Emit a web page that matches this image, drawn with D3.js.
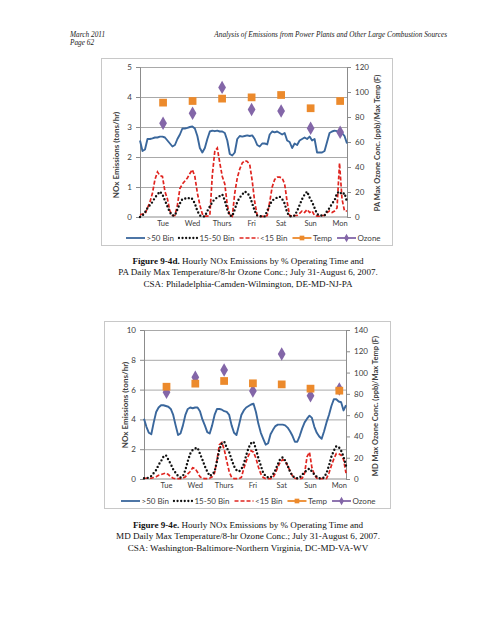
<!DOCTYPE html>
<html><head><meta charset="utf-8">
<script src="https://cdn.jsdelivr.net/npm/d3@7/dist/d3.min.js"></script>
<style>body{margin:0;background:#fff}svg{display:block}</style>
</head><body><svg id="page" width="495" height="640"></svg>
<script>
// ---------- DATA ----------
const days = ["Tue","Wed","Thurs","Fri","Sat","Sun","Mon"];
const hours = d3.range(0, 167, 2); // sample hours (every 2 h), July 31 - Aug 6 2007

// Figure 9-4d (PA)  NOx tons/hr
const paOver50 = [2.55,2.2,2.25,2.6,2.6,2.62,2.65,2.65,2.68,2.68,2.65,2.55,2.45,2.35,2.4,2.6,2.75,2.95,2.95,2.97,3.0,3.02,2.95,2.7,2.3,2.15,2.3,2.6,2.85,2.88,2.86,2.88,2.85,2.85,2.8,2.55,2.1,2.05,2.15,2.6,2.7,2.68,2.7,2.72,2.7,2.72,2.6,2.4,2.35,2.45,2.45,2.42,2.75,2.85,2.82,2.85,2.8,2.75,2.8,2.55,2.5,2.3,2.45,2.4,2.55,2.6,2.65,2.6,2.68,2.55,2.6,2.15,2.15,2.15,2.2,2.5,2.8,2.85,2.88,2.86,2.85,2.8,2.7,2.45];
const pa15to50 = [0.0,0.05,0.15,0.3,0.4,0.5,0.65,0.75,0.85,0.75,0.55,0.35,0.15,0.05,0.05,0.25,0.45,0.6,0.62,0.6,0.65,0.6,0.45,0.2,0.05,0.02,0.02,0.2,0.35,0.5,0.6,0.65,0.7,0.75,0.55,0.25,0.05,0.03,0.25,0.5,0.65,0.75,0.85,0.8,0.7,0.45,0.2,0.05,0.03,0.02,0.02,0.2,0.4,0.55,0.6,0.65,0.68,0.6,0.45,0.15,0.03,0.02,0.05,0.2,0.4,0.6,0.75,0.85,0.65,0.5,0.3,0.1,0.05,0.05,0.05,0.2,0.3,0.45,0.55,0.8,0.85,0.75,0.8,0.5];
const paUnder15 = [0.07,0.1,0.1,0.3,0.5,0.8,1.25,1.5,1.38,1.35,0.85,0.6,0.2,0.05,0.05,0.4,0.95,1.1,1.2,1.3,1.45,1.58,1.35,0.8,0.4,0.1,0.03,0.03,0.05,1.4,2.2,2.3,1.8,1.35,1.1,0.4,0.05,0.02,0.8,1.3,1.6,1.8,1.88,1.85,1.75,1.2,0.5,0.05,0.02,0.02,0.02,0.05,0.5,1.0,1.25,1.33,1.33,1.3,1.1,0.5,0.05,0.03,0.05,0.05,0.12,0.2,0.15,0.25,0.15,0.2,0.05,0.03,0.03,0.05,0.05,0.15,0.2,0.15,0.2,0.3,1.8,0.6,0.2,0.2];
const paTemp  = [91.5,92.8,94.7,95.7,97.6,87,92.8];
const paOzone = [75,83,103.7,86,84.8,71,67.8];

// Figure 9-4e (MD)  NOx tons/hr
const mdOver50 = [4.05,3.5,3.1,3.0,3.8,4.5,4.8,4.95,4.95,4.9,4.85,4.7,4.3,3.6,2.95,3.05,3.6,4.3,4.7,4.8,4.75,4.8,4.8,4.55,4.0,3.6,3.15,3.05,3.6,4.3,4.7,4.7,4.65,4.55,4.5,4.3,3.6,3.1,2.95,3.6,4.3,4.6,4.8,4.9,5.0,5.05,4.5,3.7,3.1,2.7,2.3,2.4,3.0,3.3,3.55,3.65,3.65,3.65,3.6,3.45,3.2,2.9,2.5,2.5,2.9,3.4,3.8,4.05,4.25,4.1,3.5,3.1,2.85,2.7,3.2,3.8,4.3,4.9,5.35,5.35,5.2,5.15,4.6,4.95];
const md15to50 = [0.05,0.05,0.1,0.2,0.4,0.6,0.95,1.2,1.5,1.6,1.3,1.0,0.65,0.4,0.2,0.1,0.2,0.6,1.2,1.7,1.95,2.05,2.1,1.7,1.3,0.85,0.5,0.2,0.3,0.5,1.2,2.0,2.4,2.5,2.1,1.8,1.3,0.85,0.6,0.5,0.65,1.0,1.6,2.1,2.4,2.5,2.0,1.4,0.9,0.4,0.2,0.1,0.1,0.3,0.6,1.0,1.35,1.45,1.25,0.9,0.5,0.2,0.1,0.05,0.1,0.3,0.45,0.6,0.7,0.5,0.3,0.15,0.05,0.05,0.1,0.4,0.9,1.5,1.9,2.2,2.15,1.9,1.5,0.9];
const mdUnder15 = [0.05,0.05,0.05,0.05,0.1,0.15,0.25,0.3,0.35,0.4,0.3,0.15,0.05,0.02,0.02,0.02,0.05,0.15,0.35,0.5,0.75,0.7,0.45,0.15,0.05,0.02,0.02,0.05,0.15,0.4,1.3,2.3,2.45,1.95,1.2,0.5,0.1,0.03,0.02,0.02,0.1,0.7,1.2,1.6,1.9,1.8,1.4,0.8,0.35,0.1,0.03,0.02,0.02,0.1,0.4,0.8,1.15,1.3,1.2,0.9,0.55,0.2,0.05,0.02,0.02,0.05,0.4,1.5,1.8,0.75,0.3,0.05,0.02,0.02,0.02,0.03,0.4,0.9,1.35,1.7,1.7,1.6,1.3,0.4];
const mdTemp  = [86.7,89.6,92.1,89.9,88.9,84.9,83];
const mdOzone = [81.5,95.6,102.4,82.7,117.5,78.3,84.6];

const legendLabels = [">50 Bin","15-50 Bin","<15 Bin","Temp","Ozone"];

// ---------- DRAW ----------
const svg = d3.select("#page");
svg.append("rect").attr("width",495).attr("height",640).attr("fill","#fff");

const serif = "'Liberation Serif','Times New Roman',serif";
const sans = "Lato,'Open Sans',sans-serif";
const C = {blue:"#3a679c", red:"#e0241f", black:"#111", orange:"#ec8a2c", purple:"#8366a8", grid:"#a9a9a9", axis:"#8c8c8c", text:"#404040"};

// header
const hdr = svg.append("g").attr("font-family",serif).attr("font-style","italic").attr("font-size",7.3).attr("fill","#222");
hdr.append("text").attr("x",70).attr("y",37).text("March 2011");
hdr.append("text").attr("x",70).attr("y",45).text("Page 62");
hdr.append("text").attr("x",447).attr("y",37).attr("text-anchor","end").text("Analysis of Emissions from Power Plants and Other Large Combustion Sources");

function chart(cfg){
  const g = svg.append("g");
  const f = cfg.frame, p = cfg.plot;
  g.append("rect").attr("x",f.x).attr("y",f.y).attr("width",f.w).attr("height",f.h)
    .attr("fill","#fff").attr("stroke","#c8c8c8").attr("stroke-width",1);

  const x = d3.scaleLinear().domain([0,166]).range([p.l,p.r]);
  const y = d3.scaleLinear().domain([0,cfg.yMax]).range([p.b,p.t]);
  const yr = d3.scaleLinear().domain([0,cfg.rMax]).range([p.b,p.t]);
  const xd = d3.scalePoint().domain(days).range([x(18.5),x(160.5)]);
  const yTicks = d3.range(0,cfg.yMax+0.001,cfg.yStep);

  // grid
  const grid = g.append("g").attr("transform",`translate(${p.l},0)`)
    .call(d3.axisLeft(y).tickValues(yTicks.filter(v=>v>0)).tickSize(-(p.r-p.l)).tickFormat(""));
  grid.select(".domain").remove();
  grid.selectAll("line").attr("stroke",C.grid).attr("stroke-width",1);

  // left axis
  const la = g.append("g").attr("transform",`translate(${p.l},0)`)
    .call(d3.axisLeft(y).tickValues(yTicks).tickSize(4).tickPadding(4).tickFormat(d3.format("d")));
  la.select(".domain").attr("stroke",C.axis);
  la.selectAll("line").attr("stroke",C.axis);
  la.selectAll("text").attr("font-family",sans).attr("font-size",8).attr("fill",C.text);

  // right axis
  const ra = g.append("g").attr("transform",`translate(${p.r},0)`)
    .call(d3.axisRight(yr).tickValues(d3.range(0,cfg.rMax+1,20)).tickSize(4).tickPadding(4));
  ra.select(".domain").attr("stroke",C.axis);
  ra.selectAll("line").attr("stroke",C.axis);
  ra.selectAll("text").attr("font-family",sans).attr("font-size",8).attr("fill",C.text);

  // x axis line + day labels
  g.append("line").attr("x1",p.l).attr("x2",p.r).attr("y1",p.b).attr("y2",p.b).attr("stroke",C.axis);
  g.append("g").selectAll("text").data(days).join("text")
    .attr("x",d=>xd(d)).attr("y",cfg.dayY).attr("text-anchor","middle")
    .attr("font-family",sans).attr("font-size",7.5).attr("fill",C.text).text(d=>d);

  // axis titles
  g.append("text").attr("transform",`translate(${cfg.lTitle[0]},${cfg.lTitle[1]}) rotate(-90)`)
    .attr("text-anchor","middle").attr("font-family",sans).attr("font-weight",700).attr("font-size",8)
    .attr("fill",C.text).text("NOx Emissions (tons/hr)");
  g.append("text").attr("transform",`translate(${cfg.rTitle[0]},${cfg.rTitle[1]}) rotate(-90)`)
    .attr("text-anchor","middle").attr("font-family",sans).attr("font-weight",700).attr("font-size",7.5)
    .attr("fill",C.text).text(cfg.rTitleText);

  const line = d3.line().x((d,i)=>x(hours[i])).y(d=>y(d));
  g.append("path").datum(cfg.over50).attr("d",line).attr("fill","none").attr("stroke",C.blue).attr("stroke-width",1.9).attr("stroke-linejoin","round");
  g.append("path").datum(cfg.under15).attr("d",line).attr("fill","none").attr("stroke",C.red).attr("stroke-width",1.7).attr("stroke-dasharray","4,2");
  g.append("path").datum(cfg.b1550).attr("d",line).attr("fill","none").attr("stroke",C.black).attr("stroke-width",2.4).attr("stroke-dasharray","0,3.8").attr("stroke-linecap","round");

  const sq = d3.symbol(d3.symbolSquare,60)(), dm = d3.symbol(d3.symbolDiamond,52)();
  g.append("g").selectAll("path").data(cfg.ozone).join("path").attr("d",dm)
    .attr("transform",(d,i)=>`translate(${xd(days[i])},${yr(d)})`).attr("fill",C.purple);
  g.append("g").selectAll("path").data(cfg.temp).join("path").attr("d",sq)
    .attr("transform",(d,i)=>`translate(${xd(days[i])},${yr(d)})`).attr("fill",C.orange);

  // legend
  const lg = g.append("g").attr("font-family",sans).attr("font-size",8).attr("fill",C.text);
  let cx = cfg.legX; const ly = cfg.legY;
  legendLabels.forEach((lab,i)=>{
    const L = 19;
    const s = lg.append("line").attr("x1",cx).attr("x2",cx+L).attr("y1",ly).attr("y2",ly);
    if(i===0) s.attr("stroke",C.blue).attr("stroke-width",1.8);
    if(i===1) s.attr("stroke",C.black).attr("stroke-width",2.3).attr("stroke-dasharray","0,3.6").attr("stroke-linecap","round");
    if(i===2) s.attr("stroke",C.red).attr("stroke-width",1.5).attr("stroke-dasharray","4,2");
    if(i===3){ s.attr("stroke",C.orange).attr("stroke-width",1.8);
      lg.append("path").attr("d",d3.symbol(d3.symbolSquare,22)()).attr("transform",`translate(${cx+L/2},${ly})`).attr("fill",C.orange);}
    if(i===4){ s.attr("stroke",C.purple).attr("stroke-width",1.8);
      lg.append("path").attr("d",d3.symbol(d3.symbolDiamond,20)()).attr("transform",`translate(${cx+L/2},${ly})`).attr("fill",C.purple);}
    const t = lg.append("text").attr("x",cx+L+1.5).attr("y",ly+2.8).text(lab);
    cx += L + 1.5 + t.node().getComputedTextLength() + 5;
  });

  // caption
  const cap = svg.append("g").attr("font-family",serif).attr("font-size",9.1).attr("fill","#111").attr("text-anchor","middle");
  cfg.caption.forEach((ln,i)=>{
    const t = cap.append("text").attr("x",248).attr("y",cfg.capY + i*11.8);
    if(i===0){ t.append("tspan").attr("font-weight",700).text(cfg.figLabel); t.append("tspan").text(ln); }
    else t.text(ln);
  });
}

chart({
  frame:{x:101.5,y:58.5,w:291,h:187}, plot:{l:140,r:347,t:67,b:217},
  yMax:5, yStep:1, rMax:120, dayY:226, lTitle:[119,155], rTitle:[380,143],
  rTitleText:"PA Max Ozone Conc. (ppb)/Max Temp (F)",
  over50:paOver50, b1550:pa15to50, under15:paUnder15, temp:paTemp, ozone:paOzone,
  legX:126, legY:238,
  figLabel:"Figure 9-4d.", capY:263.5,
  caption:[" Hourly NOx Emissions by % Operating Time and","PA Daily Max Temperature/8-hr Ozone Conc.; July 31-August 6, 2007.","CSA: Philadelphia-Camden-Wilmington, DE-MD-NJ-PA"]
});
chart({
  frame:{x:104.5,y:321.5,w:286,h:187}, plot:{l:144,r:346,t:330,b:479},
  yMax:10, yStep:2, rMax:140, dayY:488, lTitle:[128,405], rTitle:[378,406],
  rTitleText:"MD Max Ozone Conc. (ppb)/Max Temp (F)",
  over50:mdOver50, b1550:md15to50, under15:mdUnder15, temp:mdTemp, ozone:mdOzone,
  legX:121, legY:501,
  figLabel:"Figure 9-4e.", capY:527.5,
  caption:[" Hourly NOx Emissions by % Operating Time and","MD Daily Max Temperature/8-hr Ozone Conc.; July 31-August 6, 2007.","CSA: Washington-Baltimore-Northern Virginia, DC-MD-VA-WV"]
});
</script></body></html>
